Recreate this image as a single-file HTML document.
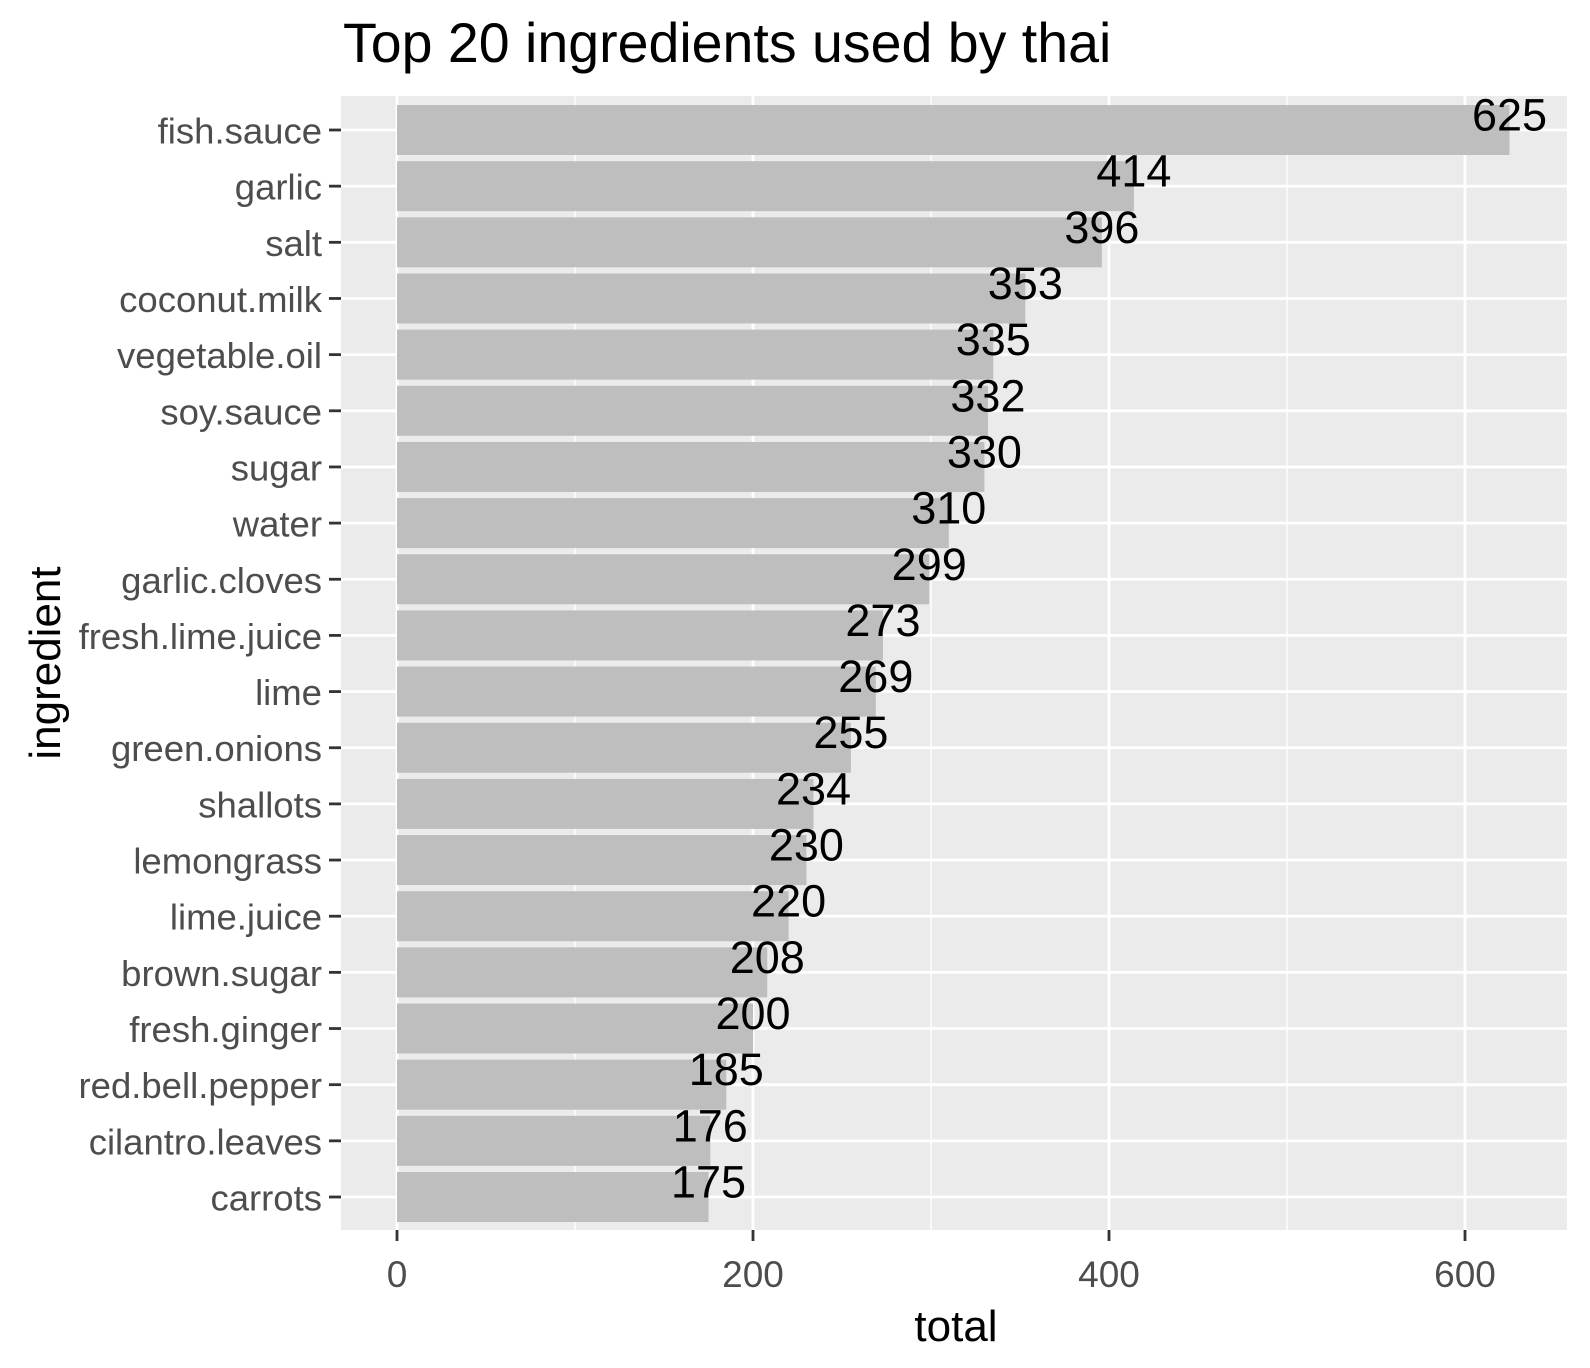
<!DOCTYPE html>
<html><head><meta charset="utf-8"><style>
html,body{margin:0;padding:0;background:#fff;}
svg{display:block;font-family:"Liberation Sans",Arial,sans-serif;}
</style></head><body>
<svg id="chart" width="1590" height="1368" viewBox="0 0 1590 1368">
<text x="343" y="62" font-size="55.5" fill="#000">Top 20 ingredients used by thai</text>
<rect x="341" y="96" width="1226" height="1134" fill="#ebebeb"/>
<g id="grid"></g><g id="bars"></g><g id="labels"></g><g id="yaxis"></g><g id="xaxis"></g>
<text x="956" y="1341" font-size="44" text-anchor="middle" fill="#000">total</text>
<text transform="translate(60,663) rotate(-90)" font-size="44" text-anchor="middle" fill="#000">ingredient</text>
</svg>
<script>
const categories = ["fish.sauce","garlic","salt","coconut.milk","vegetable.oil","soy.sauce","sugar","water","garlic.cloves","fresh.lime.juice","lime","green.onions","shallots","lemongrass","lime.juice","brown.sugar","fresh.ginger","red.bell.pepper","cilantro.leaves","carrots"];
const values = [625,414,396,353,335,332,330,310,299,273,269,255,234,230,220,208,200,185,176,175];
const xTicks = [0,200,400,600];
const xMinor = [100,300,500];
const NS="http://www.w3.org/2000/svg";
const x0=397, pxPer=356/200, yFirst=130, yStep=(1197-130)/19, barH=50, pL=341, pR=1567, pT=96, pB=1230;
const xs=v=>x0+v*pxPer, ys=i=>yFirst+i*yStep;
function mk(tag,attrs,parent){const e=document.createElementNS(NS,tag);for(const k in attrs)e.setAttribute(k,attrs[k]);parent.appendChild(e);return e;}
const grid=document.getElementById('grid'),bars=document.getElementById('bars'),labels=document.getElementById('labels'),yaxis=document.getElementById('yaxis'),xaxis=document.getElementById('xaxis');
xMinor.forEach(v=>{const l=mk('line',{x1:xs(v),x2:xs(v),y1:pT,y2:pB,stroke:'#fff','stroke-width':1.4},grid);

});
xTicks.forEach(v=>{const l=mk('line',{x1:xs(v),x2:xs(v),y1:pT,y2:pB,stroke:'#fff','stroke-width':2.8},grid);


const t=mk('line',{x1:xs(v),x2:xs(v),y1:pB,y2:pB+11,stroke:'#333','stroke-width':2.8},xaxis);


const tx=mk('text',{x:xs(v),y:1287,'font-size':37,'text-anchor':'middle',fill:'#4d4d4d'},xaxis);tx.textContent=v;

});
categories.forEach((c,i)=>{const y=ys(i);
const g=mk('line',{x1:pL,x2:pR,y1:y,y2:y,stroke:'#fff','stroke-width':2.8},grid);


const b=mk('rect',{x:x0,y:y-barH/2,width:xs(values[i])-x0,height:barH,fill:'#bebebe'},bars);


const lb=mk('text',{x:xs(values[i]),y:y-15,'font-size':45,'text-anchor':'middle','dominant-baseline':'central',fill:'#000'},labels);lb.textContent=values[i];


const t=mk('line',{x1:pL-12,x2:pL,y1:y,y2:y,stroke:'#333','stroke-width':2.8},yaxis);


const tl=mk('text',{x:322,y:y+1,'font-size':36.5,'text-anchor':'end','dominant-baseline':'central',fill:'#4d4d4d'},yaxis);tl.textContent=c;

});
</script>
</body></html>
